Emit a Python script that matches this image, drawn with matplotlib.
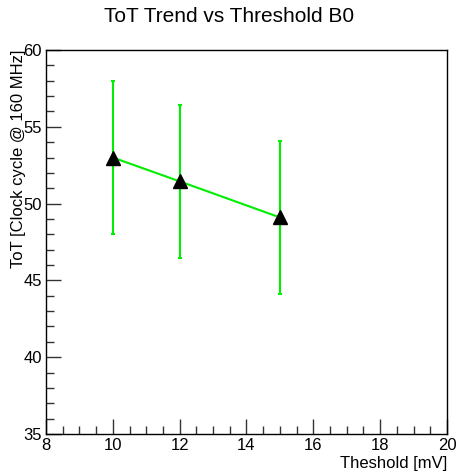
import matplotlib
matplotlib.use("Agg")
import matplotlib.pyplot as plt
from matplotlib.ticker import MultipleLocator

plt.rcParams['font.family'] = ['Liberation Sans', 'DejaVu Sans']

threshold = [10, 12, 15]
tot = [53.0, 51.45, 49.1]
tot_err = [5.0, 5.0, 5.0]

fig = plt.figure(figsize=(4.58, 4.71), dpi=100)
ax = fig.add_axes([0.1004, 0.0786, 0.8755, 0.8152])

ax.errorbar(threshold, tot, yerr=tot_err, color='#00ee00', lw=1.5,
            elinewidth=1.5, capsize=1.5, capthick=1.5, zorder=2,
            marker=None)
ax.plot(threshold, tot, linestyle='none', marker='^', ms=9.5,
        color='black', zorder=3)

ax.set_xlim(8, 20)
ax.set_ylim(35, 60)
ax.xaxis.set_major_locator(MultipleLocator(2))
ax.xaxis.set_minor_locator(MultipleLocator(0.5))
ax.yaxis.set_major_locator(MultipleLocator(5))
ax.yaxis.set_minor_locator(MultipleLocator(1))
ax.tick_params(which='both', direction='in', top=False, right=False,
               labelsize=12, width=1, color='#333333')
ax.tick_params(which='major', length=11, pad=3)
ax.tick_params(which='minor', length=6)
for s in ax.spines.values():
    s.set_linewidth(1)

fig.text(0.5, 0.965, 'ToT Trend vs Threshold B0', ha='center', va='center',
         fontsize=15)
ax.set_xlabel('Theshold [mV]', fontsize=12, loc='right', labelpad=2)
ax.set_ylabel('ToT [Clock cycle @ 160 MHz]', fontsize=12, loc='top',
              labelpad=-2)

fig.savefig('out.png', dpi=100)
